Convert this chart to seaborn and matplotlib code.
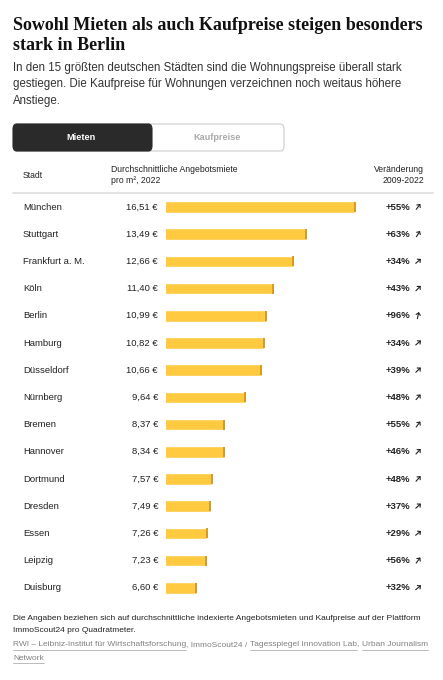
import numpy as np
import pandas as pd
import seaborn as sns
import matplotlib.pyplot as plt
from matplotlib.patches import FancyBboxPatch

# data
staedte = ['München', 'Stuttgart', 'Frankfurt a. M.', 'Köln', 'Berlin', 'Hamburg',
           'Düsseldorf', 'Nürnberg', 'Bremen', 'Hannover', 'Dortmund', 'Dresden',
           'Essen', 'Leipzig', 'Duisburg']
miete = [16.51, 13.49, 12.66, 11.40, 10.99, 10.82, 10.66, 9.64, 8.37, 8.34,
         7.57, 7.49, 7.26, 7.23, 6.60]
veraenderung = [55, 63, 34, 43, 96, 34, 39, 48, 55, 46, 48, 37, 29, 56, 32]

df = pd.DataFrame({'Stadt': staedte, 'Miete': miete, 'Change': veraenderung})

W, H = 443, 680
sns.set_theme(style='white')
plt.rcParams['font.family'] = ['Liberation Sans', 'DejaVu Sans']

fig = plt.figure(figsize=(W / 100, H / 100), dpi=100)
fig.patch.set_facecolor('white')


def fx(px):
    return px / W


def fy(py):
    return 1 - py / H


# bar axes: rows 207..588 px, bars start at x=166 px
row0, row_step = 207, 27.2
top = row0 - row_step / 2
bot = row0 + 14 * row_step + row_step / 2
x_left, x_right = 166, 396
xmin = 4.67
px_per_unit = 16.0
xmax = xmin + (x_right - x_left) / px_per_unit
ax = fig.add_axes([fx(x_left), fy(bot), fx(x_right - x_left), (bot - top) / H])
sns.barplot(data=df, x='Miete', y='Stadt', color='#FFC940', saturation=1,
            width=0.42, ax=ax, orient='h')
# darker end cap on each bar
ax.scatter(df['Miete'] - 0.05, np.arange(len(df)), marker='|', s=62,
           color='#D9991A', linewidths=1.4, zorder=3)
ax.set_xlim(xmin, xmax)
ax.set_ylim(len(df) - 0.5, -0.5)
ax.axis('off')

dark = '#222222'
fsz = 6.8
for i, row in df.iterrows():
    y = fy(row0 + i * row_step)
    fig.text(fx(23), y, row['Stadt'], fontsize=fsz, color=dark, va='center')
    fig.text(fx(158), y, f"{row['Miete']:.2f} €".replace('.', ','), fontsize=fsz,
             color=dark, va='center', ha='right')
    fig.text(fx(410), y, f"+{row['Change']}%", fontsize=fsz, color=dark,
             va='center', ha='right', fontweight='bold')
    ang = np.deg2rad(min(20 + 0.6 * row['Change'], 85))
    cx, cy = 418, row0 + i * row_step
    L = 6
    x0, y0 = cx - L / 2 * np.cos(ang), cy + L / 2 * np.sin(ang)
    x1, y1 = cx + L / 2 * np.cos(ang), cy - L / 2 * np.sin(ang)
    fig.add_artist(plt.Line2D([fx(x0), fx(x1)], [fy(y0), fy(y1)], color=dark, lw=0.8))
    # arrow head
    for da in (0.8, -0.8):
        hx = x1 - 3 * np.cos(ang + da)
        hy = y1 + 3 * np.sin(ang + da)
        fig.add_artist(plt.Line2D([fx(x1), fx(hx)], [fy(y1), fy(hy)], color=dark, lw=0.8))

# title and subtitle
fig.text(fx(13), fy(25), 'Sowohl Mieten als auch Kaufpreise steigen besonders',
         fontsize=13, fontweight='bold', family='Liberation Serif', color='#111111', va='center')
fig.text(fx(13), fy(45), 'stark in Berlin',
         fontsize=13, fontweight='bold', family='Liberation Serif', color='#111111', va='center')
sub = ['In den 15 größten deutschen Städten sind die Wohnungspreise überall stark',
       'gestiegen. Die Kaufpreise für Wohnungen verzeichnen noch weitaus höhere',
       'Anstiege.']
for k, line in enumerate(sub):
    fig.text(fx(13), fy(68 + k * 16.5), line, fontsize=8.3, color='#333333', va='center')

# toggle buttons
fig.add_artist(FancyBboxPatch((fx(14), fy(151)), fx(270), (151 - 124) / H,
                              boxstyle='round,pad=0,rounding_size=0.008',
                              transform=fig.transFigure, facecolor='white',
                              edgecolor='#cccccc', lw=0.8))
fig.add_artist(FancyBboxPatch((fx(13), fy(151)), fx(139), (151 - 124) / H,
                              boxstyle='round,pad=0,rounding_size=0.008',
                              transform=fig.transFigure, facecolor='#2a2a2a',
                              edgecolor='#2a2a2a', lw=0.8))
fig.text(fx(81), fy(137.5), 'Mieten', fontsize=6.6, fontweight='bold', color='white',
         ha='center', va='center')
fig.text(fx(217), fy(137.5), 'Kaufpreise', fontsize=6.6, fontweight='bold', color='#aaaaaa',
         ha='center', va='center')

# table header
hs = 6.2
fig.text(fx(23), fy(175), 'Stadt', fontsize=hs, color=dark, va='center')
fig.text(fx(111), fy(169), 'Durchschnittliche Angebotsmiete', fontsize=hs, color=dark, va='center')
fig.text(fx(111), fy(181), 'pro m², 2022', fontsize=hs, color=dark, va='center')
fig.text(fx(424), fy(169), 'Veränderung', fontsize=hs, color=dark, va='center', ha='right')
fig.text(fx(424), fy(181), '2009-2022', fontsize=hs, color=dark, va='center', ha='right')
fig.add_artist(plt.Line2D([fx(13), fx(433)], [fy(193), fy(193)], color='#dddddd', lw=1.2))

# footer
fs = 6.0
fig.text(fx(13), fy(618), 'Die Angaben beziehen sich auf durchschnittliche indexierte Angebotsmieten und Kaufpreise auf der Plattform',
         fontsize=fs, color=dark, va='center')
fig.text(fx(13), fy(631), 'ImmoScout24 pro Quadratmeter.', fontsize=fs, color=dark, va='center')

# source line, links underlined
renderer = fig.canvas.get_renderer()
src_color = '#808080'
parts = [[('RWI – Leibniz-Institut für Wirtschaftsforschung', True), (', ImmoScout24 / ', False),
          ('Tagesspiegel Innovation Lab', True), (', ', False), ('Urban Journalism', True)],
         [('Network', True)]]
for k, line in enumerate(parts):
    xpos = 13
    ypx = 645 + k * 13
    for txt, link in line:
        t = fig.text(fx(xpos), fy(ypx), txt, fontsize=fs, color=src_color, va='center')
        bb = t.get_window_extent(renderer)
        if link:
            fig.add_artist(plt.Line2D([fx(xpos), fx(xpos + bb.width)], [fy(ypx + 4.8), fy(ypx + 4.8)],
                                      color='#b0b0b0', lw=0.6))
        xpos += bb.width

fig.savefig('out.png', dpi=100, facecolor='white')
